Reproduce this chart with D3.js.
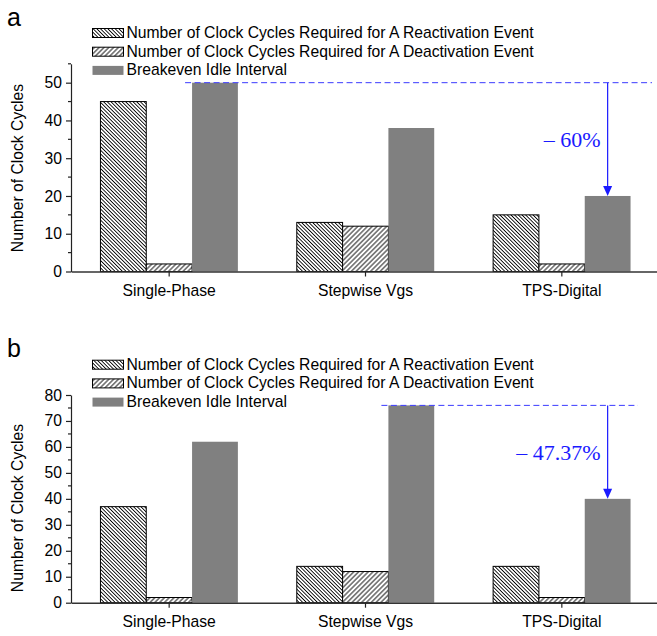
<!DOCTYPE html>
<html><head><meta charset="utf-8">
<script src="https://cdn.jsdelivr.net/npm/d3@7"></script>
<style>body{margin:0;background:#fff}svg{display:block}</style>
</head><body>
<script>
const categories = ["Single-Phase", "Stepwise Vgs", "TPS-Digital"];
const seriesNames = [
  "Number of Clock Cycles Required for A Reactivation Event",
  "Number of Clock Cycles Required for A Deactivation Event",
  "Breakeven Idle Interval"
];
const reactA = [45, 13, 15];
const deactA = [2, 12, 2];
const breakA = [50, 38, 20];
const reactB = [37, 14, 14];
const deactB = [2, 12, 2];
const breakB = [62, 76, 40];
const yTicksA = [0, 10, 20, 30, 40, 50];
const yTicksB = [0, 10, 20, 30, 40, 50, 60, 70, 80];
const panelLabels = ["a", "b"];
const annotA = {from: 0, to: 2, text: "\u2013 60%"};
const annotB = {from: 1, to: 2, text: "\u2013 47.37%"};

const W = 657, H = 636;
const svg = d3.select("body").append("svg").attr("width", W).attr("height", H);
const defs = svg.append("defs");
function hatch(id, sp, ang) {
  const p = defs.append("pattern").attr("id", id).attr("patternUnits", "userSpaceOnUse")
    .attr("width", sp).attr("height", sp).attr("patternTransform", `rotate(${ang})`);
  p.append("rect").attr("width", sp).attr("height", sp).attr("fill", "#fff");
  p.append("line").attr("x1", sp / 2).attr("y1", 0).attr("x2", sp / 2).attr("y2", sp)
    .attr("stroke", "#000").attr("stroke-width", 0.9);
}
hatch("hatchBack", 2.6, -45);
hatch("hatchFwd", 3.4, 45);
const fills = ["url(#hatchBack)", "url(#hatchFwd)", "#808080"];

const x = d3.scaleBand().domain(categories).range([71, 660]).paddingInner(0).paddingOuter(0);
const sub = d3.scaleBand().domain([0, 1, 2]).range([-x.bandwidth() * 0.35, x.bandwidth() * 0.35]);

const panels = [
  {label: panelLabels[0], data: [reactA, deactA, breakA], ticks: yTicksA, max: 55, y0: 271.5, yTop: 63.8,
   labelY: 26, legendY: 33, titleY: 168, xLabelY: 296, annot: annotA},
  {label: panelLabels[1], data: [reactB, deactB, breakB], ticks: yTicksB, max: 80, y0: 602.7, yTop: 395,
   labelY: 356.5, legendY: 364.7, titleY: 508, xLabelY: 627, annot: annotB}
];

const font = "Liberation Sans, Arial, sans-serif";
const fs = 15.7;
panels.forEach(P => {
  const g = svg.append("g");
  const y = d3.scaleLinear().domain([0, P.max]).range([P.y0, P.yTop]);
  g.append("text").attr("x", 7).attr("y", P.labelY).attr("font-family", font).attr("font-size", 25).text(P.label);
  P.data.forEach((series, si) => {
    g.selectAll(null).data(series).enter().append("rect")
      .attr("x", (d, i) => x(categories[i]) + x.bandwidth() / 2 + sub(si))
      .attr("y", d => y(d))
      .attr("width", sub.bandwidth())
      .attr("height", d => y(0) - y(d))
      .attr("fill", fills[si])
      .attr("stroke", si < 2 ? "#000" : "none")
      .attr("stroke-width", 1);
  });
  const yAxis = d3.axisLeft(y).tickValues(P.ticks).tickSize(5).tickSizeOuter(0).tickPadding(4);
  const ya = g.append("g").attr("transform", "translate(71,0)").call(yAxis);
  ya.select(".domain").attr("stroke", "#222").attr("stroke-width", 1.2);
  ya.selectAll(".tick line").attr("stroke", "#222").attr("stroke-width", 1.2);
  ya.selectAll("text").attr("font-family", font).attr("font-size", fs).attr("fill", "#000");
  const minor = d3.range(5, P.max + 0.1, 10);
  ya.selectAll(".minor").data(minor).enter().append("line")
    .attr("x1", -3).attr("x2", 0).attr("y1", d => y(d)).attr("y2", d => y(d))
    .attr("stroke", "#222").attr("stroke-width", 1.2);
  const xAxis = d3.axisBottom(x).tickSize(5).tickSizeOuter(0).tickPadding(10);
  const xa = g.append("g").attr("transform", `translate(0,${P.y0})`).call(xAxis);
  xa.select(".domain").attr("stroke", "#333").attr("stroke-width", 1.6);
  xa.selectAll(".tick line").attr("stroke", "#222").attr("stroke-width", 1.2);
  xa.selectAll("text").attr("font-family", font).attr("font-size", fs).attr("fill", "#000")
    .attr("dy", null).attr("y", P.xLabelY - P.y0);
  g.append("text").attr("transform", `translate(23,${P.titleY}) rotate(-90)`)
    .attr("text-anchor", "middle").attr("font-family", font).attr("font-size", fs).text("Number of Clock Cycles");
  seriesNames.forEach((n, i) => {
    const ly = P.legendY + i * 18.7;
    g.append("rect").attr("x", 92.5).attr("y", ly - 4.5).attr("width", 31).attr("height", 9)
      .attr("fill", fills[i]).attr("stroke", i < 2 ? "#000" : "none").attr("stroke-width", 1);
    g.append("text").attr("x", 126.5).attr("y", ly + 4.8).attr("font-family", font).attr("font-size", fs).text(n);
  });
  const A = P.annot;
  const fromVal = P.data[2][A.from], toVal = P.data[2][A.to];
  const xs = x(categories[A.from]) + x.bandwidth() / 2 + sub(2) - 7;
  const xc = x(categories[A.to]) + x.bandwidth() / 2 + sub(2) + sub.bandwidth() / 2;
  const xe = A.from === 0 ? 652 : 638;
  g.append("line").attr("x1", xs).attr("x2", xe).attr("y1", y(fromVal)).attr("y2", y(fromVal))
    .attr("stroke", "#3b3bff").attr("stroke-width", 1).attr("stroke-dasharray", "6,3.5");
  g.append("line").attr("x1", xc).attr("x2", xc).attr("y1", y(fromVal)).attr("y2", y(toVal) - 8)
    .attr("stroke", "#1a1aff").attr("stroke-width", 1.2);
  g.append("path").attr("d", `M${xc - 4.5},${y(toVal) - 10}L${xc + 4.5},${y(toVal) - 10}L${xc},${y(toVal)}Z`)
    .attr("fill", "#1a1aff");
  g.append("text").attr("x", xc - 7).attr("y", (y(fromVal) + y(toVal)) / 2 + 8)
    .attr("text-anchor", "end").attr("font-family", "Liberation Serif, Times New Roman, serif")
    .attr("font-size", 22).attr("fill", "#1a1aff").text(A.text);
});
</script>
</body></html>
